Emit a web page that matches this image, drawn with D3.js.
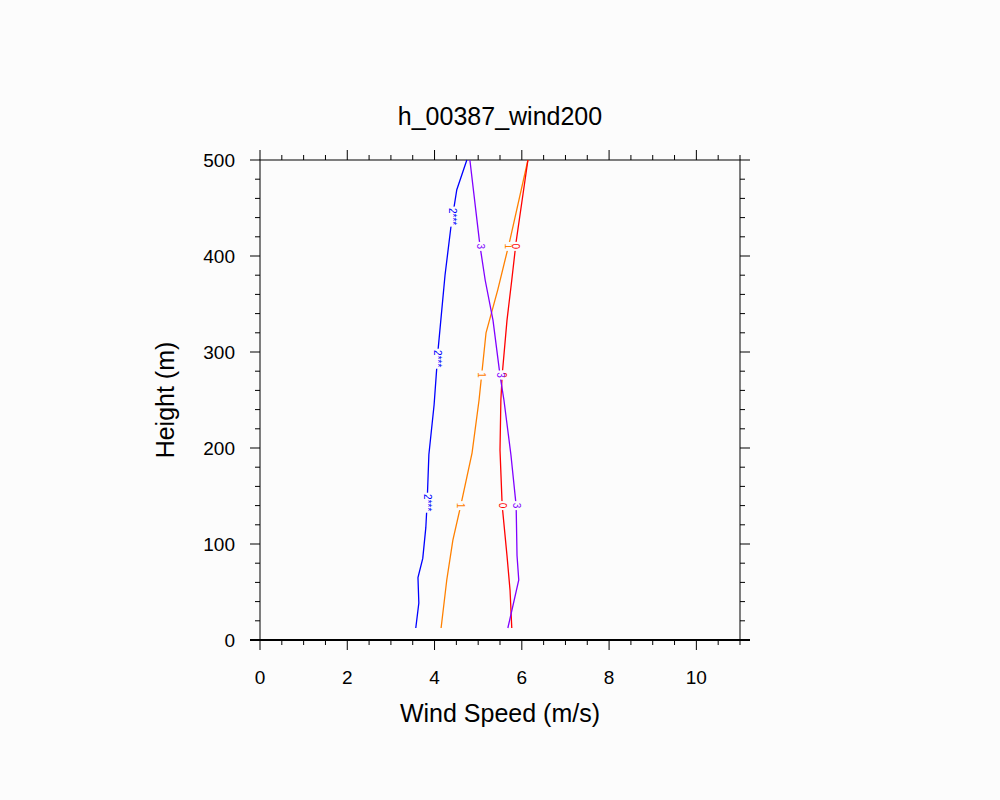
<!DOCTYPE html><html><head><meta charset="utf-8">
<script src="https://cdn.jsdelivr.net/npm/d3@7"></script>
<style>body{margin:0;background:#fcfcfc}text{font-family:"Liberation Sans",Arial,sans-serif}</style></head><body>
<svg id="c" width="1000" height="800"></svg>
<script>
const title = "h_00387_wind200";
const xTicks = [0,2,4,6,8,10];
const yTicks = [0,100,200,300,400,500];
const blueH = [12.5,38.5,65,85,117,143,193,245,302,380,432,469,500];
const blueV = [3.57,3.64,3.62,3.73,3.80,3.83,3.87,3.99,4.08,4.24,4.38,4.51,4.74];
const orangeH = [12.5,62.5,104,140,195,250,320,365,417,500];
const orangeV = [4.15,4.28,4.42,4.60,4.86,5.02,5.18,5.45,5.73,6.14];
const redH = [12.5,52,88,140,198,250,276,333,375,415,500];
const redV = [5.77,5.73,5.66,5.55,5.50,5.52,5.55,5.66,5.77,5.87,6.14];
const purpleH = [12.5,62.5,88,140,193,250,276,333,375,411,500];
const purpleV = [5.68,5.93,5.89,5.87,5.75,5.59,5.50,5.34,5.16,5.04,4.81];
const series = [
 {h:blueH,v:blueV,c:"#0000ff",lab:"2***",lh:[143,293,441]},
 {h:orangeH,v:orangeV,c:"#ff8000",lab:"1",lh:[140,276,410]},
 {h:redH,v:redV,c:"#ff0000",lab:"0",lh:[140,276,410]},
 {h:purpleH,v:purpleV,c:"#8000ff",lab:"3",lh:[140,276,410]}
];
const svg=d3.select("#c");
const x=d3.scaleLinear().domain([0,11]).range([260,740]);
const y=d3.scaleLinear().domain([0,500]).range([640,160]);
const g=svg.append("g");
g.append("rect").attr("x",260).attr("y",160).attr("width",480).attr("height",480).attr("fill","none").attr("stroke","#000").attr("stroke-width",1);
g.append("line").attr("x1",250).attr("x2",750).attr("y1",640).attr("y2",640).attr("stroke","#000").attr("stroke-width",2);
const xMinor=d3.range(0,11.01,0.5), yMinor=d3.range(0,501,20);
xMinor.forEach(t=>{const maj=xTicks.includes(t);const L=maj?10:5;
 g.append("line").attr("x1",x(t)).attr("x2",x(t)).attr("y1",640).attr("y2",640+L).attr("stroke","#000");
 g.append("line").attr("x1",x(t)).attr("x2",x(t)).attr("y1",160).attr("y2",160-L).attr("stroke","#000");});
yMinor.forEach(t=>{const maj=yTicks.includes(t);const L=maj?10:5;
 g.append("line").attr("y1",y(t)).attr("y2",y(t)).attr("x1",260).attr("x2",260-L).attr("stroke","#000");
 g.append("line").attr("y1",y(t)).attr("y2",y(t)).attr("x1",740).attr("x2",740+L).attr("stroke","#000");});
xTicks.forEach(t=>g.append("text").attr("x",x(t)).attr("y",684).attr("text-anchor","middle").attr("font-size",19).text(t));
yTicks.forEach(t=>g.append("text").attr("x",235).attr("y",y(t)+7).attr("text-anchor","end").attr("font-size",19).text(t));
svg.append("text").attr("x",500).attr("y",125).attr("text-anchor","middle").attr("font-size",25).text(title);
svg.append("text").attr("x",500).attr("y",722).attr("text-anchor","middle").attr("font-size",25).text("Wind Speed (m/s)");
svg.append("text").attr("transform","translate(174,400) rotate(-90)").attr("text-anchor","middle").attr("font-size",25).text("Height (m)");
const line=d3.line().x(d=>x(d[0])).y(d=>y(d[1]));
series.forEach(s=>{
 const pts=s.v.map((v,i)=>[v,s.h[i]]);
 g.append("path").attr("d",line(pts)).attr("fill","none").attr("stroke",s.c).attr("stroke-width",1.3);
 s.lh.forEach(hh=>{
  let vv=pts[0][0];
  for(let i=1;i<pts.length;i++){if(pts[i][1]>=hh){const a=pts[i-1],b=pts[i];vv=a[0]+(b[0]-a[0])*(hh-a[1])/(b[1]-a[1]);break;}}
  const px=x(vv),py=y(hh);const w=s.lab.length>1?20:9;
  g.append("rect").attr("x",px-4).attr("y",py-w/2).attr("width",8).attr("height",w).attr("fill","#fcfcfc");
  g.append("text").attr("transform",`translate(${px},${py}) rotate(90)`).attr("text-anchor","middle").attr("dominant-baseline","central").attr("font-size",10).attr("fill",s.c).text(s.lab);
 });
});
</script></body></html>
